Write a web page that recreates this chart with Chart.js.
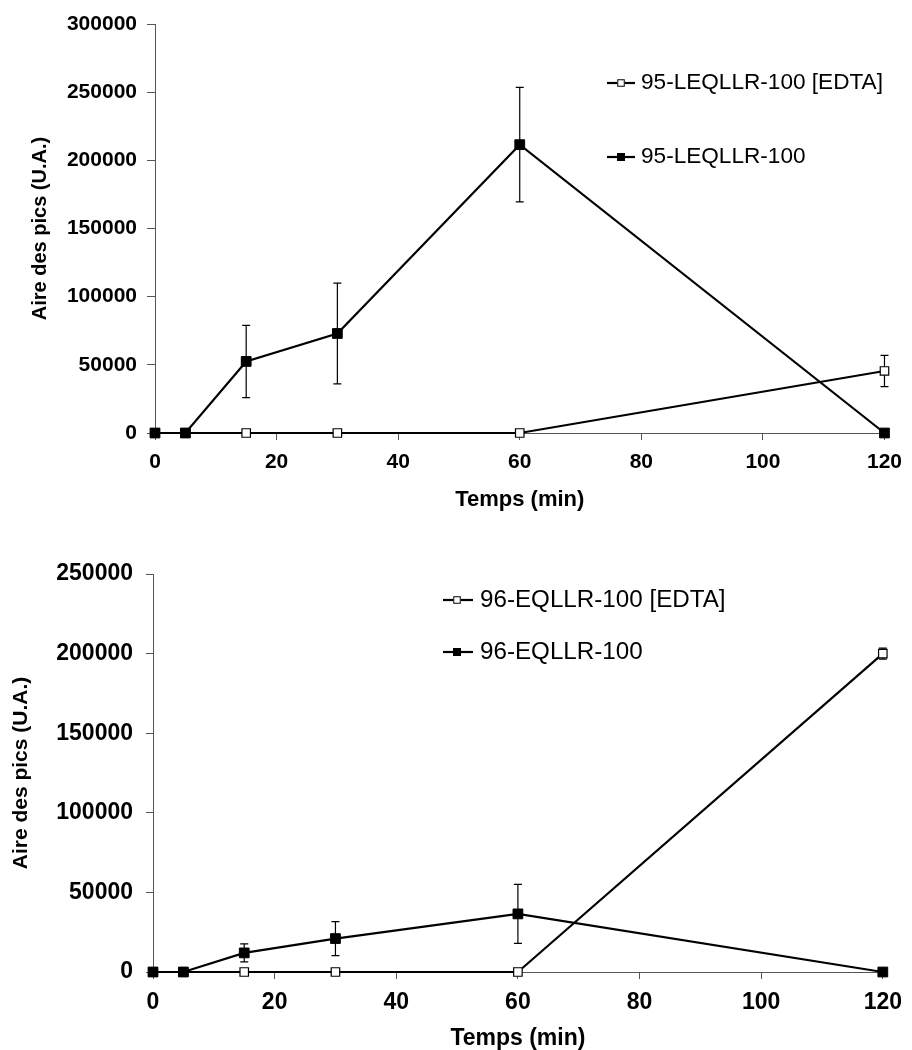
<!DOCTYPE html>
<html><head><meta charset="utf-8">
<script src="https://cdn.jsdelivr.net/npm/chart.js@4.4.1/dist/chart.umd.min.js"></script>
<style>
html,body{margin:0;padding:0;background:#fff;}
#w1{position:absolute;left:0;top:0;width:912px;height:525px;}
#w2{position:absolute;left:0;top:540px;width:912px;height:510px;}
</style></head><body>
<div id="w1"><canvas id="c1"></canvas></div>
<div id="w2"><canvas id="c2"></canvas></div>
<script>
// ---- data ----
const times = [0, 5, 15, 30, 60, 120];
const xTicks = [0, 20, 40, 60, 80, 100, 120];

const topLabels = ['95-LEQLLR-100 [EDTA]', '95-LEQLLR-100'];
const topEdta = [0, 0, 0, 0, 0, 45500];
const topEdtaErr = [0, 0, 0, 0, 0, 11500];
const topMain = [0, 0, 52500, 73000, 211500, 0];
const topMainErr = [0, 0, 26500, 37000, 42000, 0];
const topYTicks = [0, 50000, 100000, 150000, 200000, 250000, 300000];

const botLabels = ['96-EQLLR-100 [EDTA]', '96-EQLLR-100'];
const botEdta = [0, 0, 0, 0, 0, 200000];
const botEdtaErr = [0, 0, 0, 0, 0, 3500];
const botMain = [0, 0, 12000, 21000, 36500, 0];
const botMainErr = [0, 0, 5700, 10700, 18500, 0];
const botYTicks = [0, 50000, 100000, 150000, 200000, 250000];

const xTitle = 'Temps (min)';
const yTitle = 'Aire des pics (U.A.)';

const FONT = '"Liberation Sans", Arial, Helvetica, sans-serif';

function pts(vals) { return times.map((t, i) => ({x: t, y: vals[i]})); }

const errorBarsPlugin = {
  id: 'errorBars',
  beforeDatasetsDraw(chart) {
    const ctx = chart.ctx;
    const xs = chart.scales.x, ys = chart.scales.y;
    ctx.save();
    ctx.strokeStyle = '#000';
    ctx.lineWidth = 1.2;
    chart.data.datasets.forEach(ds => {
      if (!ds.errors) return;
      ds.data.forEach((p, i) => {
        const e = ds.errors[i];
        if (!e) return;
        const x = xs.getPixelForValue(p.x);
        const y1 = ys.getPixelForValue(p.y + e);
        const y2 = ys.getPixelForValue(p.y - e);
        ctx.beginPath();
        ctx.moveTo(x, y1); ctx.lineTo(x, y2);
        ctx.moveTo(x - 4, y1); ctx.lineTo(x + 4, y1);
        ctx.moveTo(x - 4, y2); ctx.lineTo(x + 4, y2);
        ctx.stroke();
      });
    });
    ctx.restore();
  }
};

const legendPlugin = {
  id: 'customLegend',
  afterDraw(chart, args, opts) {
    const ctx = chart.ctx;
    ctx.save();
    opts.rows.forEach((row, k) => {
      const ds = chart.data.datasets.find(d => d.label === row.label);
      ctx.strokeStyle = '#000';
      ctx.lineWidth = 2.2;
      ctx.beginPath();
      ctx.moveTo(opts.x0, row.y); ctx.lineTo(opts.x1, row.y);
      ctx.stroke();
      const s = ds.legendMarker;
      ctx.fillStyle = ds.pointBackgroundColor;
      ctx.fillRect(opts.mx - s / 2, row.y - s / 2, s, s);
      ctx.lineWidth = 1;
      ctx.strokeRect(opts.mx - s / 2 + 0.5, row.y - s / 2 + 0.5, s - 1, s - 1);
      ctx.fillStyle = '#000';
      ctx.font = opts.fontSize + 'px ' + FONT;
      ctx.textBaseline = 'middle';
      ctx.textAlign = 'left';
      ctx.fillText(row.label, opts.tx, row.y);
    });
    ctx.restore();
  }
};

function makeChart(id, cfg) {
  const datasets = [
    {
      label: cfg.labels[1], data: pts(cfg.main), errors: cfg.mainErr,
      borderColor: '#000', borderWidth: 2.2, tension: 0,
      pointStyle: 'rect', pointRadius: 6.9, pointBackgroundColor: '#000',
      pointBorderColor: '#000', pointBorderWidth: 1, clip: false, order: 0,
      legendMarker: 8
    },
    {
      label: cfg.labels[0], data: pts(cfg.edta), errors: cfg.edtaErr,
      borderColor: '#000', borderWidth: 2.2, tension: 0,
      pointStyle: 'rect', pointRadius: 6.0, pointBackgroundColor: '#fff',
      pointBorderColor: '#000', pointBorderWidth: 1.2, clip: false, order: 1,
      legendMarker: 7.5
    }
  ];
  return new Chart(document.getElementById(id), {
    type: 'line',
    data: {datasets},
    plugins: [errorBarsPlugin, legendPlugin],
    options: {
      responsive: true, maintainAspectRatio: false, animation: false,
      devicePixelRatio: 1,
      layout: {padding: {top: cfg.padTop, right: cfg.padRight, left: 0, bottom: 0}},
      plugins: {
        legend: {display: false}, tooltip: {enabled: false},
        customLegend: cfg.legend
      },
      scales: {
        x: {
          type: 'linear', min: 0, max: 120,
          afterBuildTicks: s => { s.ticks = xTicks.map(v => ({value: v})); },
          afterFit: s => { s.height = cfg.xHeight; },
          border: {display: true, color: '#555', width: 1},
          grid: {drawOnChartArea: false, drawTicks: true, tickLength: 7, color: '#555', lineWidth: 1},
          ticks: {color: '#000', padding: cfg.xTickPad, maxRotation: 0, autoSkip: false,
                  font: {family: FONT, size: cfg.tickSize, weight: 'bold', lineHeight: 1.2}},
          title: {display: true, text: xTitle, color: '#000',
                  font: {family: FONT, size: cfg.xTitleSize, weight: 'bold', lineHeight: 1},
                  padding: {top: 0, bottom: cfg.xTitlePad}}
        },
        y: {
          type: 'linear', min: 0, max: cfg.yTicks[cfg.yTicks.length - 1],
          afterBuildTicks: s => { s.ticks = cfg.yTicks.map(v => ({value: v})); },
          afterFit: s => { s.width = cfg.yWidth; },
          border: {display: true, color: '#555', width: 1},
          grid: {drawOnChartArea: false, drawTicks: true, tickLength: cfg.yTickLen, color: '#555', lineWidth: 1},
          ticks: {color: '#000', padding: cfg.yTickPad, autoSkip: false,
                  callback: v => String(v),
                  font: {family: FONT, size: cfg.tickSize, weight: 'bold', lineHeight: 1.2}},
          title: {display: true, text: yTitle, color: '#000',
                  font: {family: FONT, size: cfg.yTitleSize, weight: 'bold', lineHeight: 1},
                  padding: {top: cfg.yTitlePad, bottom: 0}}
        }
      }
    }
  });
}

makeChart('c1', {
  labels: topLabels, main: topMain, mainErr: topMainErr, edta: topEdta, edtaErr: topEdtaErr,
  yTicks: topYTicks, padTop: 24, padRight: 19, xHeight: 92, yWidth: 155,
  tickSize: 21, xTickPad: 10, yTickPad: 10, yTickLen: 8,
  xTitleSize: 22, xTitlePad: 14, yTitleSize: 20, yTitlePad: 30,
  legend: {x0: 607, x1: 635, mx: 621, tx: 641, fontSize: 22.6,
           rows: [{label: topLabels[0], y: 83}, {label: topLabels[1], y: 157}]}
});

makeChart('c2', {
  labels: botLabels, main: botMain, mainErr: botMainErr, edta: botEdta, edtaErr: botEdtaErr,
  yTicks: botYTicks, padTop: 34, padRight: 21, xHeight: 78, yWidth: 153,
  tickSize: 23, xTickPad: 10, yTickPad: 13, yTickLen: 7,
  xTitleSize: 23, xTitlePad: 0, yTitleSize: 21, yTitlePad: 11,
  legend: {x0: 443, x1: 473, mx: 457, tx: 480, fontSize: 24.2,
           rows: [{label: botLabels[0], y: 60}, {label: botLabels[1], y: 112}]}
});
</script>
</body></html>
